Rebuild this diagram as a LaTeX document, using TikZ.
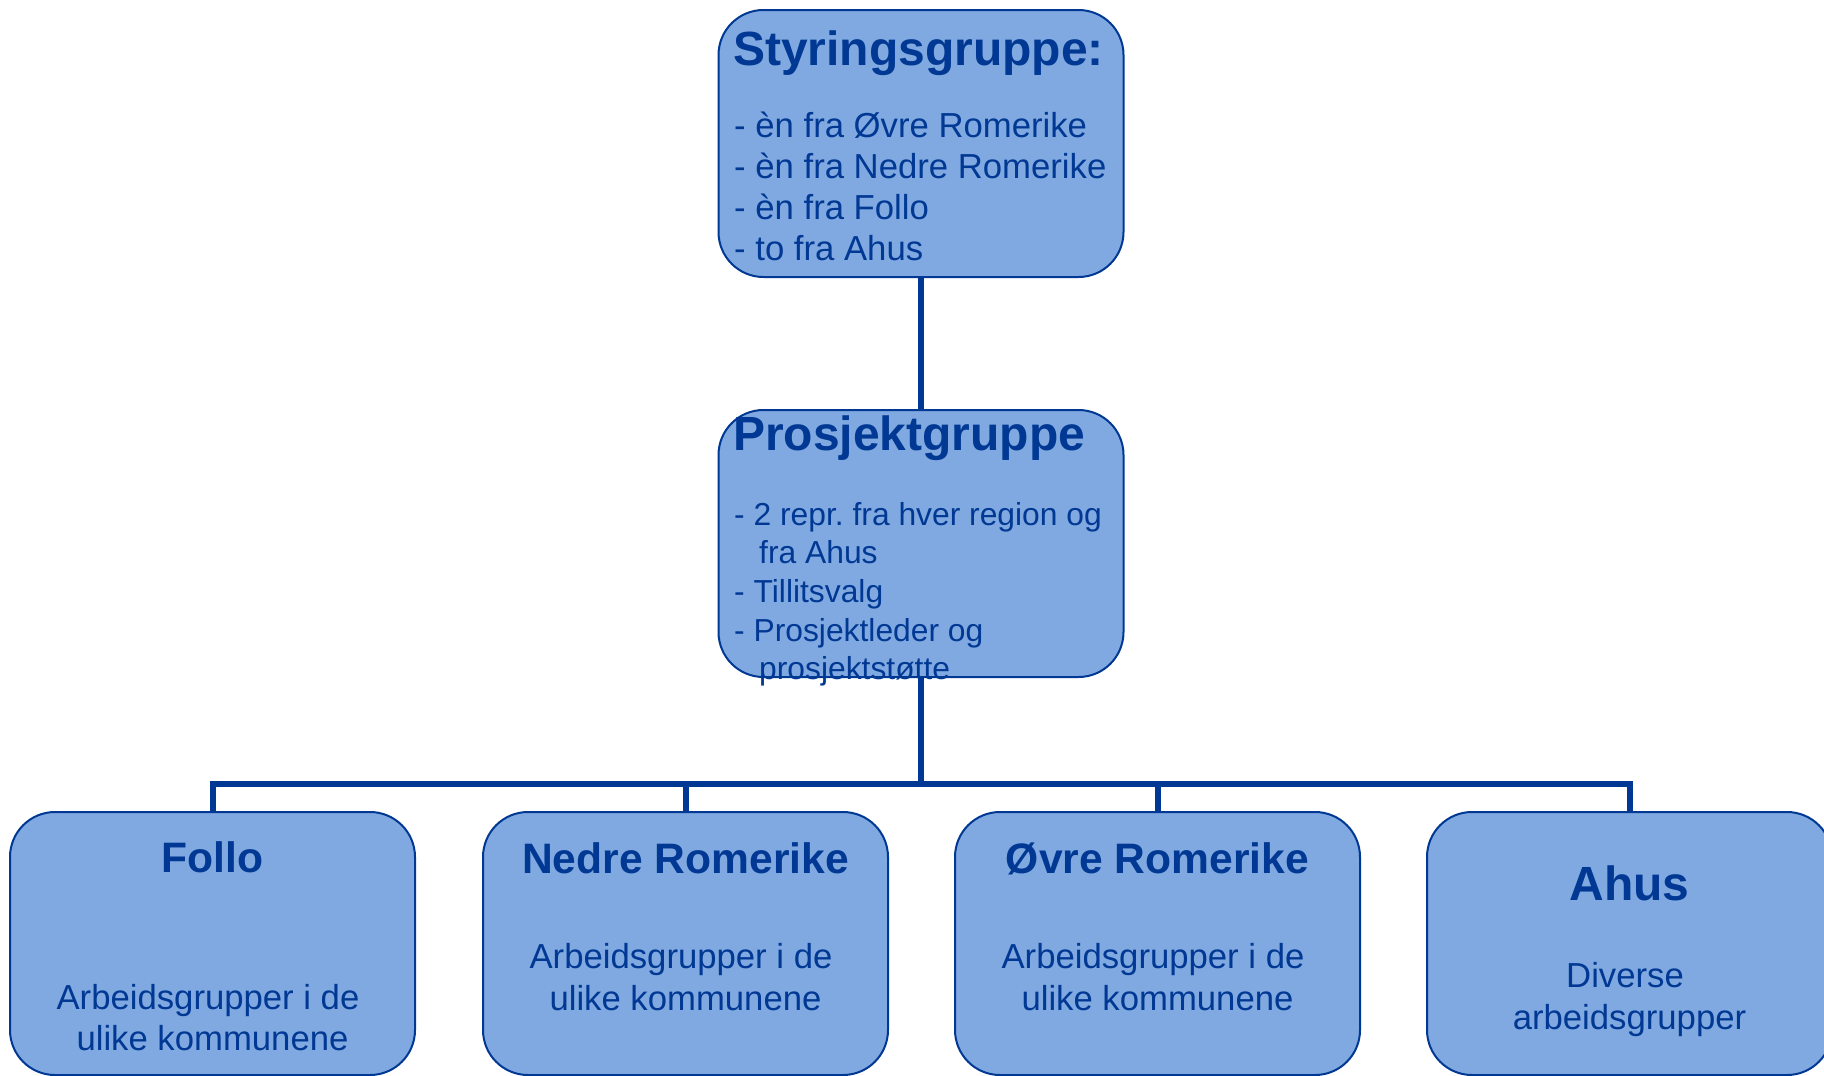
\documentclass[tikz,border=0pt]{standalone}
\usepackage{fontspec}
\setmainfont{Liberation Sans}
\definecolor{boxfill}{RGB}{127,169,224}
\definecolor{navy}{RGB}{0,56,147}
\frenchspacing
\begin{document}
\begin{tikzpicture}[x=1pt,y=-1pt,
  orgbox/.style={draw=navy, line width=2pt, fill=boxfill, rounded corners=45pt,
    minimum width=405pt, inner sep=0pt},
  conn/.style={draw=navy, line width=6pt},
  ttl/.style={text=navy, inner sep=0pt, font=\fontsize{48}{54}\selectfont\bfseries},
  sttl/.style={text=navy, inner sep=0pt, font=\fontsize{42.6}{48}\selectfont\bfseries},
  txt/.style={text=navy, inner sep=0pt, anchor=base west, font=\fontsize{34.7}{40}\selectfont},
  ptxt/.style={text=navy, inner sep=0pt, anchor=base west, font=\fontsize{31.8}{38}\selectfont},
  btxt/.style={text=navy, inner sep=0pt, anchor=base, font=\fontsize{34.7}{40}\selectfont}]
\useasboundingbox (0,0) rectangle (1824,1076);

% boxes
\node[orgbox, minimum height=267pt] (sty) at (921,143.5) {};
\node[orgbox, minimum height=267pt] (pro) at (921,543.5) {};
\node[orgbox, minimum height=263pt] (follo) at (212.5,943.5) {};
\node[orgbox, minimum height=263pt] (nedre) at (685.5,943.5) {};
\node[orgbox, minimum height=263pt] (ovre) at (1157.5,943.5) {};
\node[orgbox, minimum height=263pt] (ahus) at (1629.5,943.5) {};

% connectors
\coordinate (bus) at (921,784);
\draw[conn] (sty.south) -- (pro.north);
\draw[conn] (pro.south) -- (bus);
\draw[conn] (bus) -| (follo.north);
\draw[conn] (bus) -| (nedre.north);
\draw[conn] (bus) -| (ovre.north);
\draw[conn] (bus) -| (ahus.north);

% Styringsgruppe text
\node[ttl, anchor=base west] (styT) at (733,65) {Styringsgruppe:};
\node[txt] (s1) at (734,137) {- èn fra Øvre Romerike};
\node[txt] (s2) at (734,178.5) {- èn fra Nedre Romerike};
\node[txt] (s3) at (734,219.5) {- èn fra Follo};
\node[txt] (s4) at (734,260.5) {- to fra Ahus};

% Prosjektgruppe text
\node[ttl, anchor=base west] (proT) at (733,450) {Prosjektgruppe};
\node[ptxt] (p1) at (734,525) {- 2 repr. fra hver region og};
\node[ptxt] (p2) at (759,563.5) {fra Ahus};
\node[ptxt] (p3) at (734,602) {- Tillitsvalg};
\node[ptxt] (p4) at (734,641) {- Prosjektleder og};
\node[ptxt] (p5) at (759,679) {prosjektstøtte};

% Follo
\node[sttl, anchor=base] (folloT) at (212.5,872) {Follo};
\node[btxt] (f1) at (208,1009) {Arbeidsgrupper i de};
\node[btxt] (f2) at (212.5,1050) {ulike kommunene};

% Nedre Romerike
\node[sttl, anchor=base] (nedreT) at (685.5,873) {Nedre Romerike};
\node[btxt] (n1) at (681,968.5) {Arbeidsgrupper i de};
\node[btxt] (n2) at (685.5,1010) {ulike kommunene};

% Øvre Romerike
\node[sttl, anchor=base] (ovreT) at (1157.5,873) {Øvre Romerike};
\node[btxt] (o1) at (1153,968.5) {Arbeidsgrupper i de};
\node[btxt] (o2) at (1157.5,1010) {ulike kommunene};

% Ahus
\node[ttl, anchor=base] (ahusT) at (1629.5,900) {Ahus};
\node[btxt] (a1) at (1625,987.5) {Diverse};
\node[btxt] (a2) at (1629.5,1029) {arbeidsgrupper};
\end{tikzpicture}
\end{document}
